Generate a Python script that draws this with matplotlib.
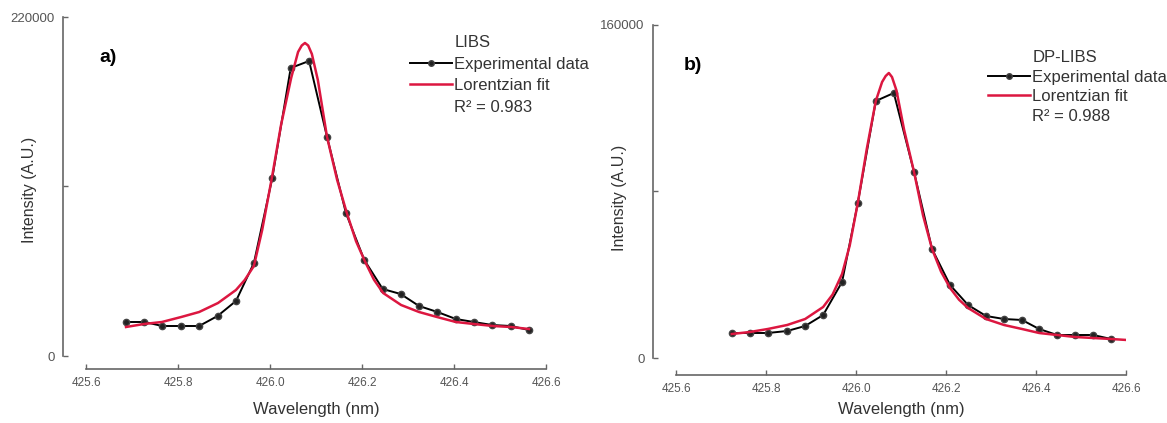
import numpy as np
import matplotlib
matplotlib.use("Agg")
import matplotlib.pyplot as plt
from matplotlib.lines import Line2D

plt.rcParams["font.family"] = ["Liberation Sans", "DejaVu Sans"]

# === Panel a) LIBS ===
wl_a = [425.687, 425.727, 425.766, 425.806, 425.846, 425.886, 425.926, 425.965,
        426.005, 426.045, 426.085, 426.124, 426.165, 426.205, 426.245, 426.284,
        426.324, 426.364, 426.404, 426.443, 426.483, 426.523, 426.563]
exp_a = [22066, 22066, 19470, 19470, 19470, 25960, 35695, 60357,
         115522, 186912, 191455, 142131, 92807, 62304, 43483, 40238,
         32450, 28556, 24013, 22066, 20119, 19470, 16874]

fit_wl_a = [425.687, 425.726, 425.765, 425.807, 425.846, 425.887, 425.926, 425.945,
            425.965, 425.983, 426.004, 426.024, 426.046, 426.061, 426.069, 426.076,
            426.083, 426.091, 426.104, 426.124, 426.146, 426.167, 426.187, 426.207,
            426.226, 426.246, 426.285, 426.324, 426.363, 426.404, 426.443, 426.485,
            426.524, 426.563]
fit_a = [18821, 20768, 22066, 25311, 28556, 34397, 42834, 49300,
         58410, 81774, 115522, 149919, 180422, 197296, 201500, 203137,
         201500, 196000, 179124, 142131, 114224, 92807, 74500, 61006,
         49500, 40887, 33099, 28556, 25311, 22066, 20768, 19470,
         18821, 17523]

# === Panel b) DP-LIBS ===
wl_b = [425.724, 425.764, 425.804, 425.847, 425.887, 425.927, 425.969, 426.004,
        426.044, 426.084, 426.129, 426.169, 426.209, 426.249, 426.289, 426.329,
        426.369, 426.407, 426.447, 426.487, 426.527, 426.567]
exp_b = [12012, 12012, 12012, 12973, 15376, 20661, 36518, 74477,
         123488, 127332, 89373, 52374, 35076, 25466, 20181, 18739,
         18259, 13934, 11051, 11051, 11051, 9129]

fit_wl_b = [425.724, 425.764, 425.804, 425.847, 425.887, 425.927, 425.948, 425.969,
            425.986, 426.004, 426.024, 426.044, 426.058, 426.066, 426.073, 426.080,
            426.090, 426.107, 426.129, 426.149, 426.169, 426.189, 426.209, 426.229,
            426.249, 426.289, 426.329, 426.369, 426.407, 426.447, 426.487, 426.527,
            426.567, 426.602]
fit_b = [11532, 12493, 13934, 15856, 18739, 24505, 30500, 40362,
         54000, 74477, 100500, 123488, 132618, 135500, 136943, 135000,
         128500, 109554, 89373, 68500, 52374, 41500, 33635, 28000,
         24025, 18739, 15856, 13934, 12012, 11051, 10091, 9610,
         9129, 8649]

xticks = [425.6, 425.8, 426.0, 426.2, 426.4, 426.6]

RED = "#dc1740"
GREY = "#666666"

fig = plt.figure(figsize=(11.67, 4.23), dpi=100)


def draw_panel(rect, wl, exp, fit_wl, fit, ymax, title, r2, tag, tag_xy,
               leg_xy, leg_sp, offset_left, offset_bottom, xlab_y, ylab_x, ylab_y):
    ax = fig.add_axes(rect)
    ax.plot(fit_wl, fit, color=RED, lw=1.8, zorder=3)
    ax.plot(wl, exp, color="black", lw=1.4, marker="o", ms=4.5,
            mfc="#222222", mec="#444444", zorder=2)

    ax.set_xlim(425.6, 426.6)
    ax.set_ylim(0, ymax)
    ax.set_xticks(xticks)
    ax.set_xticklabels(["%.1f" % t for t in xticks])
    ax.set_yticks([0, ymax / 2, ymax])
    ax.set_yticklabels(["0", "", "%d" % ymax])

    for s in ["top", "right"]:
        ax.spines[s].set_visible(False)
    ax.spines["left"].set_position(("outward", offset_left))
    ax.spines["bottom"].set_position(("outward", offset_bottom))
    for s in ["left", "bottom"]:
        ax.spines[s].set_color(GREY)
        ax.spines[s].set_linewidth(1.2)

    ax.tick_params(axis="both", direction="in", length=3.6, width=1.0,
                   color=GREY, labelcolor="#555555")
    ax.tick_params(axis="x", labelsize=8.5, pad=6)
    ax.tick_params(axis="y", labelsize=9.5, pad=6)

    ax.set_xlabel("Wavelength (nm)", fontsize=12, color="#333333")
    ax.set_ylabel("Intensity (A.U.)", fontsize=11.5, color="#333333")
    ax.xaxis.set_label_coords(0.5, xlab_y)
    ax.yaxis.set_label_coords(ylab_x, ylab_y)

    fig.text(tag_xy[0], tag_xy[1], tag, fontsize=14, fontweight="bold",
             ha="center", va="center")

    # legende
    blank = Line2D([], [], lw=0, marker=None)
    h_exp = Line2D([], [], color="black", lw=1.4, marker="o", ms=4,
                   mfc="#222222", mec="#444444")
    h_fit = Line2D([], [], color=RED, lw=1.8)
    fig.legend([blank, h_exp, h_fit, blank],
               [title, "Experimental data", "Lorentzian fit", "R\u00b2 = " + r2],
               loc="upper left", bbox_to_anchor=leg_xy, frameon=False,
               fontsize=12, handlelength=2.5, handletextpad=0.15,
               labelspacing=leg_sp, borderpad=0, borderaxespad=0,
               labelcolor="#333333")
    return ax


W, H = 1167.0, 423.0
draw_panel([86 / W, 67 / H, 460 / W, 339 / H], wl_a, exp_a, fit_wl_a, fit_a,
           220000, "LIBS", "0.983", "a)", (108 / W, 1 - 57 / H),
           (410 / W, 1 - 35 / H), 0.39, 16.6, 9.4, -0.135, -0.107, 0.49)
draw_panel([676 / W, 65 / H, 450 / W, 333 / H], wl_b, exp_b, fit_wl_b, fit_b,
           160000, "DP-LIBS", "0.988", "b)", (693 / W, 1 - 65 / H),
           (988 / W, 1 - 50 / H), 0.28, 16.6, 12.2, -0.131, -0.109, 0.48)

plt.savefig("out.png", dpi=100)
